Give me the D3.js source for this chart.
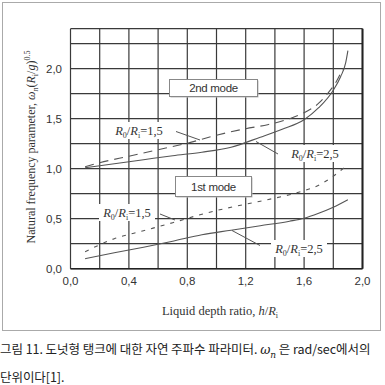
<!DOCTYPE html>
<html>
<head>
<meta charset="utf-8">
<script src="https://cdn.jsdelivr.net/npm/d3@7"></script>
<style>
  body { margin: 0; background: #fff; }
  .caption { position: absolute; left: 0px; top: 338px; width: 385px;
    font-family: "Noto Sans CJK KR", "Noto Sans", sans-serif; font-size: 12.5px;
    line-height: 22px; color: #222; letter-spacing: -0.05px; white-space: nowrap; }
</style>
</head>
<body>
<svg id="chart" width="385" height="385" style="position:absolute;left:0;top:0"></svg>
<div class="caption">그림 11. 도넛형 탱크에 대한 자연 주파수 파라미터. <i style="font-family:'DejaVu Serif',serif">ω<sub style="font-size:9px">n</sub></i> 은 rad/sec에서의<br>단위이다[1].</div>
<script>
// second mode, R0/Ri = 1.5 (dashed) and 2.5 (solid)
var mode2Ratio15 = [[0.1,1.02],[0.2,1.06],[0.4,1.125],[0.6,1.19],[0.8,1.255],[1.0,1.335],[1.2,1.40],[1.35,1.44],[1.5,1.50],[1.6,1.56],[1.7,1.655],[1.76,1.75],[1.82,1.87],[1.865,2.0]];
var mode2Ratio25 = [[0.1,1.01],[0.3,1.05],[0.5,1.09],[0.7,1.13],[0.9,1.165],[1.1,1.215],[1.3,1.315],[1.45,1.395],[1.6,1.49],[1.7,1.61],[1.8,1.785],[1.85,1.92],[1.885,2.06],[1.9,2.18]];
// first mode
var mode1Ratio15 = [[0.1,0.17],[0.3,0.30],[0.5,0.38],[0.7,0.46],[0.9,0.545],[1.1,0.615],[1.3,0.675],[1.5,0.74],[1.6,0.78],[1.7,0.835],[1.8,0.925],[1.89,1.03]];
var mode1Ratio25 = [[0.1,0.10],[0.3,0.16],[0.5,0.215],[0.7,0.275],[0.9,0.34],[1.1,0.385],[1.3,0.43],[1.5,0.475],[1.6,0.505],[1.7,0.555],[1.8,0.615],[1.9,0.69]];

var xTickLabels = [0, 0.4, 0.8, 1.2, 1.6, 2.0];
var yTickLabels = [0, 0.5, 1.0, 1.5, 2.0];

var svg = d3.select("#chart");

// outer frame
svg.append("rect").attr("x", 2.5).attr("y", 2.5).attr("width", 378).attr("height", 328)
  .attr("fill", "none").attr("stroke", "#aaa").attr("stroke-width", 1);

var x = d3.scaleLinear().domain([0, 2]).range([70.5, 362.5]);
var y = d3.scaleLinear().domain([0, 2.4]).range([268.7, 28.7]);

var grid = svg.append("g").attr("stroke", "#3a3a3a").attr("stroke-width", 1.2);
grid.selectAll("line.v").data(d3.range(0, 2.01, 0.2)).enter().append("line")
  .attr("x1", d => x(d)).attr("x2", d => x(d))
  .attr("y1", y(0)).attr("y2", y(2.4));
grid.selectAll("line.h").data(d3.range(0, 2.41, 0.25).concat([2.4])).enter().append("line")
  .attr("y1", d => y(d)).attr("y2", d => y(d))
  .attr("x1", x(0)).attr("x2", x(2));
// heavier right and bottom edges
svg.append("line").attr("x1", x(2)).attr("x2", x(2)).attr("y1", y(0)).attr("y2", y(2.4))
  .attr("stroke", "#222").attr("stroke-width", 2);
svg.append("line").attr("x1", x(0)).attr("x2", x(2)).attr("y1", y(0)).attr("y2", y(0))
  .attr("stroke", "#222").attr("stroke-width", 1.6);

var fmt = d => d.toFixed(1).replace(".", ",");
var tickFont = "'Liberation Sans Narrow', 'Liberation Sans', Arial, sans-serif";

svg.selectAll("text.xt").data(xTickLabels).enter().append("text")
  .attr("x", d => x(d)).attr("y", 285)
  .attr("text-anchor", "middle").attr("font-family", tickFont).attr("font-size", 11.5)
  .attr("fill", "#333").text(fmt);
svg.selectAll("text.yt").data(yTickLabels).enter().append("text")
  .attr("x", 62).attr("y", d => y(d) + 4)
  .attr("text-anchor", "end").attr("font-family", tickFont).attr("font-size", 11.5)
  .attr("fill", "#333").text(fmt);

// curves
var line = d3.line().x(d => x(d[0])).y(d => y(d[1])).curve(d3.curveMonotoneX);
var series = [
  { data: mode2Ratio15, dash: "9,6" },
  { data: mode2Ratio25, dash: null },
  { data: mode1Ratio15, dash: "4,6" },
  { data: mode1Ratio25, dash: null }
];
svg.selectAll("path.curve").data(series).enter().append("path")
  .attr("d", d => line(d.data))
  .attr("fill", "none").attr("stroke", "#555").attr("stroke-width", 1.1)
  .attr("stroke-dasharray", d => d.dash);

// mode boxes
function modeBox(label, x0, y0, w, h) {
  svg.append("rect").attr("x", x0 + 1).attr("y", y0 + 1).attr("width", w).attr("height", h)
    .attr("fill", "#bbb");
  svg.append("rect").attr("x", x0).attr("y", y0).attr("width", w).attr("height", h)
    .attr("fill", "#fff").attr("stroke", "#888").attr("stroke-width", 1);
  svg.append("text").attr("x", x0 + w / 2).attr("y", y0 + h / 2 + 4)
    .attr("text-anchor", "middle").attr("font-family", "'Liberation Sans', Arial, sans-serif")
    .attr("font-size", 11.5).attr("fill", "#333").attr("letter-spacing", -0.3).text(label);
}
modeBox("2nd mode", 169.5, 79.5, 88, 17);
modeBox("1st mode", 175.5, 176.5, 76, 20);

// ratio labels with leader lines
function ratioLabel(val, cx, cy, lx1, ly1, lx2, ly2) {
  svg.append("rect").attr("x", cx - 28).attr("y", cy - 9).attr("width", 56).attr("height", 17)
    .attr("fill", "#fff");
  var t = svg.append("text").attr("x", cx).attr("y", cy + 4).attr("text-anchor", "middle")
    .attr("font-family", "'Liberation Serif', 'DejaVu Serif', serif").attr("font-size", 12.5)
    .attr("fill", "#333");
  t.append("tspan").attr("font-style", "italic").text("R");
  t.append("tspan").attr("font-size", 8).attr("dy", 3).text("0");
  t.append("tspan").attr("dy", -3).text("/");
  t.append("tspan").attr("font-style", "italic").text("R");
  t.append("tspan").attr("font-size", 8).attr("dy", 3).text("i");
  t.append("tspan").attr("dy", -3).text("=" + fmt(val));
  svg.append("line").attr("x1", lx1).attr("y1", ly1).attr("x2", lx2).attr("y2", ly2)
    .attr("stroke", "#555").attr("stroke-width", 1);
}
ratioLabel(1.5, 139, 131, 176, 131.5, 200, 140);
ratioLabel(2.5, 315, 154, 278, 154, 256, 141.5);
ratioLabel(1.5, 127, 213, 160, 214, 175, 220);
ratioLabel(2.5, 299, 249, 260, 245.5, 232, 230.5);

// axis titles
var yt = svg.append("text").attr("transform", "translate(35,147) rotate(-90)")
  .attr("text-anchor", "middle").attr("font-family", "'Liberation Serif', serif")
  .attr("font-size", 12).attr("fill", "#333");
yt.append("tspan").text("Natural frequency parameter, ");
yt.append("tspan").attr("font-style", "italic").text("ω");
yt.append("tspan").attr("font-style", "italic").attr("font-size", 8).attr("dy", 3).text("n");
yt.append("tspan").attr("dy", -3).text("(");
yt.append("tspan").attr("font-style", "italic").text("R");
yt.append("tspan").attr("font-size", 8).attr("dy", 3).text("i");
yt.append("tspan").attr("dy", -3).text("/");
yt.append("tspan").attr("font-style", "italic").text("g");
yt.append("tspan").text(")");
yt.append("tspan").attr("font-size", 8).attr("dy", -5).text("0.5");

var xt = svg.append("text").attr("x", 220).attr("y", 315)
  .attr("text-anchor", "middle").attr("font-family", "'Liberation Serif', serif")
  .attr("font-size", 12.5).attr("fill", "#333");
xt.append("tspan").text("Liquid depth ratio, ");
xt.append("tspan").attr("font-style", "italic").text("h");
xt.append("tspan").text("/");
xt.append("tspan").attr("font-style", "italic").text("R");
xt.append("tspan").attr("font-size", 8).attr("dy", 3).text("i");
</script>
</body>
</html>
